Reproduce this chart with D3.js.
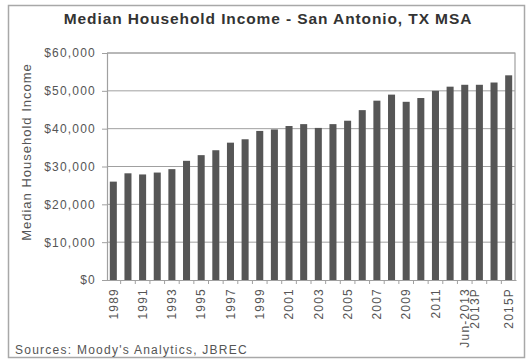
<!DOCTYPE html>
<html>
<head>
<meta charset="utf-8">
<script src="https://cdn.jsdelivr.net/npm/d3@7"></script>
<style>
  html, body { margin: 0; padding: 0; background: #fff; }
  svg { display: block; }
  text { font-family: "Liberation Sans", Arial, sans-serif; }
</style>
</head>
<body>
<svg id="chart" width="529" height="359"></svg>
<script>
const categories = ["1989","1990","1991","1992","1993","1994","1995","1996","1997","1998",
  "1999","2000","2001","2002","2003","2004","2005","2006","2007","2008","2009","2010",
  "2011","2012","Jun-2013","2013P","2014P","2015P"];
const incomes = [26000, 28200, 27900, 28400, 29300, 31500, 33000, 34300, 36300, 37200,
  39400, 39800, 40700, 41200, 40200, 41200, 42100, 44900, 47400, 49000, 47100, 48100,
  50000, 51100, 51600, 51600, 52200, 54100];
const shownLabels = ["1989","1991","1993","1995","1997","1999","2001","2003","2005","2007",
  "2009","2011","Jun-2013","2013P","2015P"];
const yTicks = [0, 10000, 20000, 30000, 40000, 50000, 60000];
const title = "Median Household Income - San Antonio, TX MSA";
const yTitle = "Median Household Income";
const source = "Sources: Moody's Analytics, JBREC";

const svg = d3.select("#chart");
const plot = { left: 107, right: 515, top: 53, bottom: 280 };

// outer frame
svg.append("rect").attr("x", 8.5).attr("y", 5.5).attr("width", 516).attr("height", 352)
  .attr("fill", "#fff").attr("stroke", "#a8a8a8").attr("stroke-width", 1.5);

const x = d3.scaleBand().domain(categories).range([106, 516]).paddingInner(0.52).paddingOuter(0.26);
const y = d3.scaleLinear().domain([0, 60000]).range([plot.bottom, plot.top]);

// gridlines
svg.append("g").selectAll("line").data(yTicks.filter(d => d > 0)).join("line")
  .attr("x1", plot.left).attr("x2", plot.right)
  .attr("y1", d => y(d)).attr("y2", d => y(d))
  .attr("stroke", "#a0a0a0").attr("stroke-width", 1);

// plot frame (top/right)
svg.append("path")
  .attr("d", `M${plot.left},${plot.top}H${plot.right}V${plot.bottom}`)
  .attr("fill", "none").attr("stroke", "#a0a0a0").attr("stroke-width", 1.2);

// bars
svg.append("g").selectAll("rect").data(categories).join("rect")
  .attr("x", d => x(d)).attr("width", x.bandwidth())
  .attr("y", (d, i) => y(incomes[i]))
  .attr("height", (d, i) => y(0) - y(incomes[i]))
  .attr("fill", "#565656");

// y axis
const yAxis = d3.axisLeft(y).tickValues(yTicks).tickSize(5).tickPadding(7)
  .tickFormat(d => "$" + d3.format(",")(d));
const gy = svg.append("g").attr("transform", `translate(${plot.left},0)`).call(yAxis);
gy.select(".domain").attr("stroke", "#a0a0a0").attr("stroke-width", 1.2);
gy.selectAll(".tick line").attr("stroke", "#a0a0a0");
gy.selectAll("text").attr("fill", "#555").attr("font-size", "12px")
  .attr("letter-spacing", "1.2px").attr("dx", "1");

// x axis
const xAxis = d3.axisBottom(x).tickSize(0).tickFormat(d => shownLabels.includes(d) ? d : "");
const gx = svg.append("g").attr("transform", `translate(0,${plot.bottom})`).call(xAxis);
gx.select(".domain").attr("stroke", "#a0a0a0").attr("stroke-width", 1.2);
gx.selectAll("text")
  .attr("fill", "#555").attr("font-size", "12px").attr("letter-spacing", "1.2px")
  .attr("text-anchor", "end")
  .attr("transform", "rotate(-90)")
  .attr("x", -8).attr("y", 0).attr("dy", "0.35em");
gx.selectAll(".tick").filter(d => d === "2013P")
  .attr("transform", d => `translate(${x(d) + x.bandwidth() / 2 - 5},0)`);
// category boundary tick marks
svg.append("g").selectAll("line").data(categories.slice(1)).join("line")
  .attr("x1", d => x(d) - (x.step() - x.bandwidth()) / 2)
  .attr("x2", d => x(d) - (x.step() - x.bandwidth()) / 2)
  .attr("y1", plot.bottom).attr("y2", plot.bottom + 4)
  .attr("stroke", "#a0a0a0");

// titles
svg.append("text").attr("x", 268).attr("y", 24).attr("text-anchor", "middle")
  .attr("font-size", "15.5px").attr("font-weight", "bold").attr("letter-spacing", "0.9px")
  .attr("fill", "#333").text(title);

svg.append("text").attr("transform", "translate(31,152) rotate(-90)")
  .attr("text-anchor", "middle").attr("font-size", "13px").attr("letter-spacing", "1px")
  .attr("fill", "#555").text(yTitle);

svg.append("text").attr("x", 15).attr("y", 354)
  .attr("font-size", "12px").attr("letter-spacing", "1.25px")
  .attr("fill", "#555").text(source);
</script>
</body>
</html>
